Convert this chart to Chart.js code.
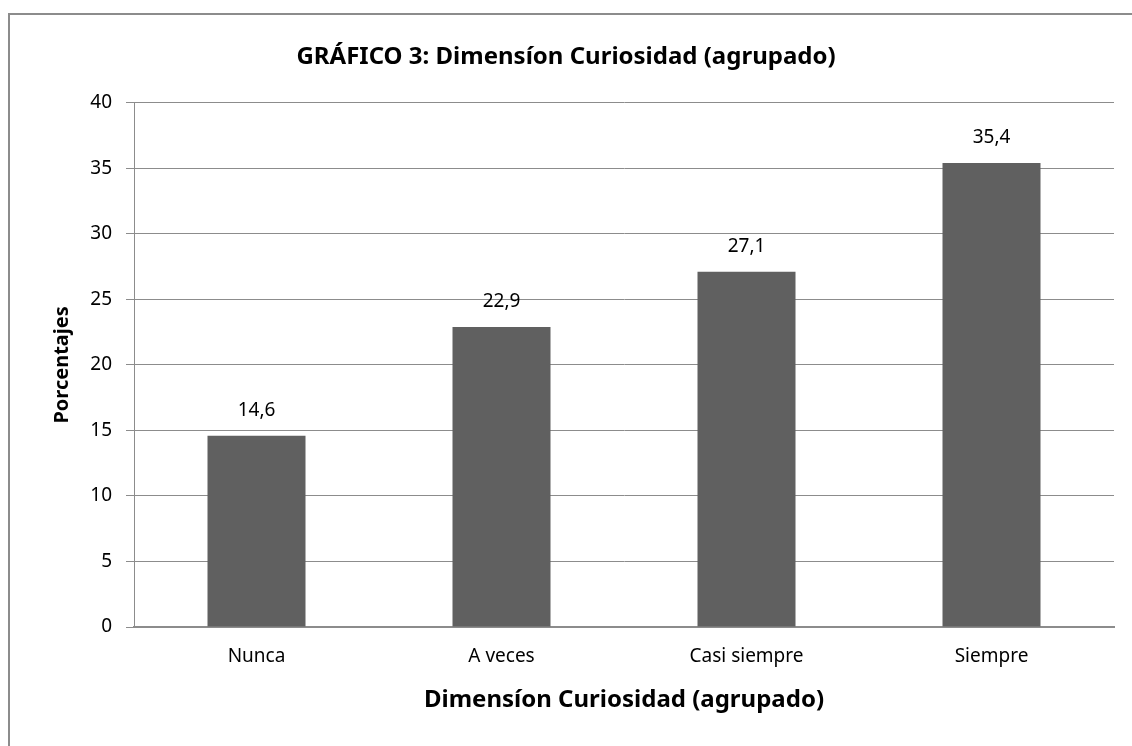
<!DOCTYPE html>
<html>
<head>
<meta charset="utf-8">
<script src="https://cdn.jsdelivr.net/npm/chart.js@4"></script>
<style>
  html, body { margin: 0; padding: 0; background: #fff; }
  #wrap { position: relative; width: 1132px; height: 746px; overflow: hidden; }
  #frame {
    position: absolute; left: 8px; top: 13px; width: 1200px; height: 800px;
    border: 2px solid #8c8c8c; box-sizing: border-box;
  }
  #chart { position: absolute; left: 0; top: 0; }
</style>
</head>
<body>
<div id="wrap">
  <div id="frame"></div>
  <canvas id="chart" width="1132" height="746"></canvas>
</div>
<script>
const categories = ['Nunca', 'A veces', 'Casi siempre', 'Siempre'];
const percentages = [14.6, 22.9, 27.1, 35.4];
const yTicks = [0, 5, 10, 15, 20, 25, 30, 35, 40];
const chartTitle = 'GRÁFICO 3: Dimensíon Curiosidad (agrupado)';
const xTitle = 'Dimensíon Curiosidad (agrupado)';
const yTitle = 'Porcentajes';

const FONT = "'Noto Sans', 'Open Sans', sans-serif";
const GRID = '#8c8c8c';

// value labels above each bar, comma decimal like the original
const barLabels = {
  id: 'barLabels',
  afterDatasetsDraw(chart) {
    const ctx = chart.ctx;
    const meta = chart.getDatasetMeta(0);
    ctx.save();
    ctx.font = '19px ' + FONT;
    ctx.fillStyle = '#000';
    ctx.textAlign = 'center';
    ctx.textBaseline = 'middle';
    meta.data.forEach((bar, i) => {
      const txt = percentages[i].toFixed(1).replace('.', ',');
      ctx.fillText(txt, bar.x, bar.y - 25);
    });
    ctx.restore();
  }
};

new Chart(document.getElementById('chart'), {
  type: 'bar',
  data: {
    labels: categories,
    datasets: [{
      data: percentages,
      backgroundColor: '#606060',
      borderWidth: 0,
      categoryPercentage: 0.8,
      barPercentage: 0.5,
    }],
  },
  options: {
    responsive: false,
    animation: false,
    layout: { padding: { left: 18, right: 18, top: 0, bottom: 0 } },
    plugins: {
      legend: { display: false },
      tooltip: { enabled: false },
      title: {
        display: true,
        text: chartTitle,
        color: '#000',
        font: { family: FONT, size: 24, weight: 'bold' },
        padding: { top: 43, bottom: 31 },
      },
    },
    scales: {
      x: {
        grid: { display: false, drawTicks: false },
        border: { color: GRID, width: 2 },
        ticks: { color: '#000', font: { family: FONT, size: 19 }, padding: 18 },
        title: {
          display: true, text: xTitle, color: '#000',
          font: { family: FONT, size: 24, weight: 'bold' },
          padding: { top: 8, bottom: 31 },
        },
        afterFit(scale) { scale.height = 119; },
      },
      y: {
        min: 0,
        max: 40,
        afterBuildTicks(scale) { scale.ticks = yTicks.map(v => ({ value: v })); },
        grid: { color: GRID, lineWidth: 1, tickLength: 8 },
        border: { color: GRID, width: 1 },
        ticks: { color: '#000', font: { family: FONT, size: 19 }, padding: 14 },
        title: {
          display: true, text: yTitle, color: '#000',
          font: { family: FONT, size: 20, weight: 'bold' },
          padding: { top: 32 },
        },
        afterFit(scale) { scale.width = 116; },
      },
    },
  },
  plugins: [barLabels],
});
</script>
</body>
</html>
